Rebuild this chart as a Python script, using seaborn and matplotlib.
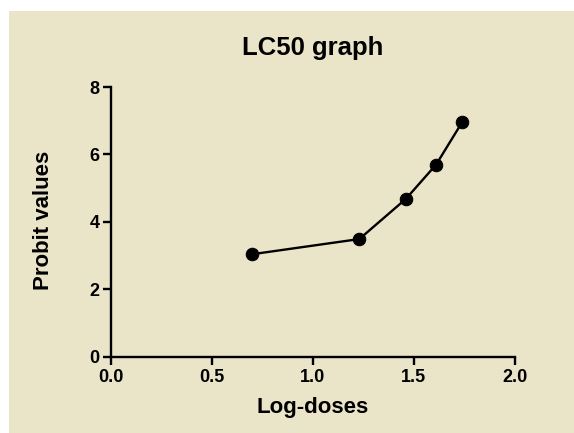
import pandas as pd
import seaborn as sns
import matplotlib.pyplot as plt
from matplotlib.patches import Rectangle

# Data
log_doses = [0.70, 1.23, 1.46, 1.61, 1.74]
probit_values = [3.04, 3.49, 4.68, 5.70, 6.97]

df = pd.DataFrame({'Log-doses': log_doses, 'Probit values': probit_values})

sns.set_style('ticks')
plt.rcParams['font.family'] = ['Liberation Sans', 'DejaVu Sans']
plt.rcParams['font.weight'] = 'bold'
plt.rcParams['text.color'] = 'black'
plt.rcParams['axes.labelcolor'] = 'black'
plt.rcParams['xtick.color'] = 'black'
plt.rcParams['ytick.color'] = 'black'

bg = '#EAE4C9'
fig = plt.figure(figsize=(5.74, 4.33), dpi=100, facecolor='white')
# beige panel, leaving a thin white margin at top and left
fig.patches.append(Rectangle((9 / 574, 0), 1, (433 - 11) / 433,
                             transform=fig.transFigure, facecolor=bg,
                             edgecolor='none', zorder=-10))

ax = fig.add_axes([110.7 / 574, 1 - 356.7 / 433, (515 - 110.7) / 574, (356.7 - 87) / 433])
ax.set_facecolor(bg)

sns.lineplot(data=df, x='Log-doses', y='Probit values', ax=ax,
             color='black', linewidth=1.7, marker='o', markersize=9,
             markeredgecolor='black', clip_on=False)

ax.set_xlim(0, 2.0)
ax.set_ylim(0, 8)
ax.set_xticks([0.0, 0.5, 1.0, 1.5, 2.0])
ax.set_xticklabels(['0.0', '0.5', '1.0', '1.5', '2.0'])
ax.set_yticks([0, 2, 4, 6, 8])

sns.despine(ax=ax)
for side in ['left', 'bottom']:
    ax.spines[side].set_linewidth(1.7)
    ax.spines[side].set_color('black')
ax.tick_params(axis='both', direction='out', length=6, width=1.7,
               labelsize=13, pad=2, colors='black')
ax.tick_params(axis='x', pad=3)
for lbl in ax.get_xticklabels() + ax.get_yticklabels():
    lbl.set_fontweight('bold')

ax.set_xlabel('Log-doses', fontsize=16, fontweight='bold', va='center')
ax.set_ylabel('Probit values', fontsize=16, fontweight='bold', va='center')
ax.xaxis.set_label_coords(0.499, -0.19)
ax.yaxis.set_label_coords(-0.167, 0.507)
ax.set_title('LC50 graph', fontsize=18.5, fontweight='bold', pad=23)

fig.savefig('out.png', dpi=100, facecolor=fig.get_facecolor())
